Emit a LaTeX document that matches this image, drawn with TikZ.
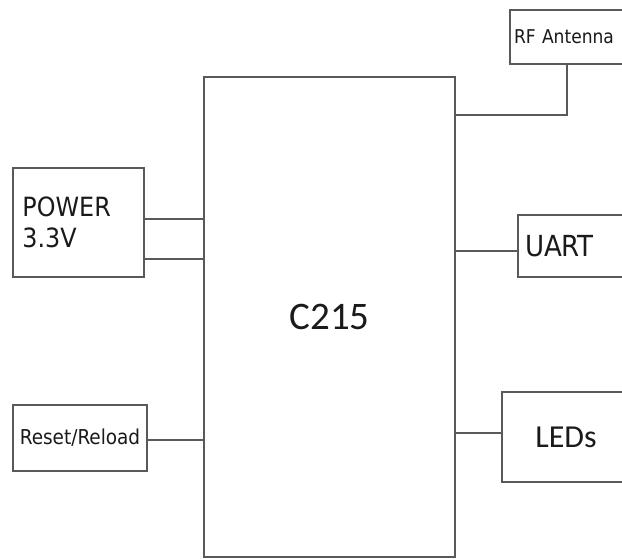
\documentclass[tikz,border=0pt]{standalone}
\usepackage{fontspec}
\newfontfamily\cond{DejaVu Sans Condensed}
\newfontfamily\carl{Carlito}
\begin{document}
\begin{tikzpicture}[x=1pt,y=-1pt,
  blk/.style={draw=linegray, line width=1.7pt, rectangle, inner sep=0pt, text=txt},
  wire/.style={draw=linegray, line width=1.7pt}]
\definecolor{linegray}{HTML}{595959}
\definecolor{txt}{HTML}{1A1A1A}
\useasboundingbox (0,0) rectangle (622,558);
\clip (0,0) rectangle (622,558);
\fill[white] (0,0) rectangle (622,558);
% main chip
\node[blk, minimum width=251pt, minimum height=480pt, font=\carl\fontsize{39}{40}\selectfont] (main) at (329.5,317) {C215};
% left blocks
\node[blk, minimum width=131pt, minimum height=109pt, text width=112pt, align=left,
  font=\cond\fontsize{26.5}{31}\selectfont] (power) at (78.5,222.5) {POWER\\3.3V};
\node[blk, minimum width=134pt, minimum height=66pt, font=\cond\fontsize{20.5}{22}\selectfont] (reset) at (80,438) {Reset/Reload};
% right blocks
\node[blk, minimum width=124pt, minimum height=54pt, text width=116pt, align=left,
  font=\cond\fontsize{19}{22}\selectfont] (rf) at (572,37) {RF Antenna};
\node[blk, minimum width=122pt, minimum height=62pt, text width=108pt, align=left,
  font=\cond\fontsize{29}{32}\selectfont] (uart) at (579,246) {UART};
\node[blk, minimum width=128pt, minimum height=90pt, font=\carl\fontsize{32}{34}\selectfont] (leds) at (566,437) {LEDs};
% connector anchor points
\coordinate (p1) at ([yshift=3.5pt]power.east);
\coordinate (p2) at ([yshift=-36.5pt]power.east);
\coordinate (r1) at ([yshift=-2pt]reset.east);
\coordinate (a1) at ([xshift=-5pt]rf.south);
\coordinate (a2) at ([yshift=-39pt]main.north east);
\coordinate (u1) at ([yshift=-5pt]uart.west);
\coordinate (l1) at ([yshift=4pt]leds.west);
% connectors
\draw[wire] (p1) -- (main.west |- p1);
\draw[wire] (p2) -- (main.west |- p2);
\draw[wire] (r1) -- (main.west |- r1);
\draw[wire] (a1) |- (a2);
\draw[wire] (main.east |- u1) -- (u1);
\draw[wire] (main.east |- l1) -- (l1);
\end{tikzpicture}
\end{document}
